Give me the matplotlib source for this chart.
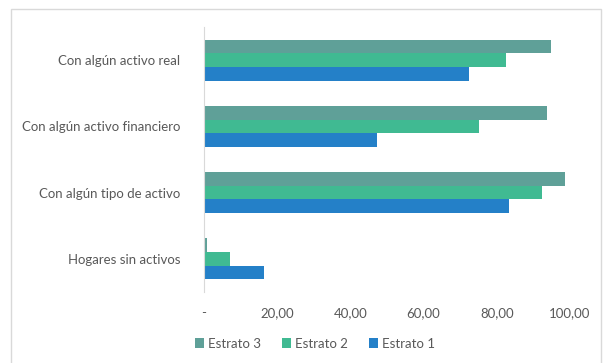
import matplotlib
matplotlib.use('Agg')
import matplotlib.pyplot as plt
from matplotlib.patches import Rectangle
from matplotlib.ticker import FuncFormatter

# Hogares con activos por estrato (%)
categories = ['Con algún activo real', 'Con algún activo financiero',
              'Con algún tipo de activo', 'Hogares sin activos']
estrato_3 = [94.8, 93.6, 98.6, 0.9]
estrato_2 = [82.4, 75.2, 92.3, 7.1]
estrato_1 = [72.5, 47.4, 83.2, 16.4]
series = [('Estrato 3', estrato_3, '#5FA098'),
          ('Estrato 2', estrato_2, '#40BA92'),
          ('Estrato 1', estrato_1, '#2480C8')]
xticks = [0, 20, 40, 60, 80, 100]

plt.rcParams['font.family'] = ['Lato', 'DejaVu Sans']
text_color = '#595959'

fig = plt.figure(figsize=(6.08, 3.63), dpi=100)
ax = fig.add_axes([204 / 608, 1 - 292 / 363, 366 / 608, 265 / 363])

# outer chart frame
fig.patches.append(Rectangle((11 / 608, -0.05), 590 / 608, 1.05 - 9 / 363,
                             transform=fig.transFigure, fill=False,
                             edgecolor='#d9d9d9', linewidth=1))

bar_h = 0.207
for i, (name, vals, color) in enumerate(series):
    ypos = [k + (i - 1) * bar_h for k in range(len(categories))]
    ax.barh(ypos, vals, height=bar_h, color=color, label=name)

ax.set_xlim(0, 100)
ax.set_ylim(len(categories) - 0.5, -0.5)
ax.set_yticks(range(len(categories)))
ax.set_yticklabels(categories, fontsize=9.5, color=text_color)
ax.set_xticks(xticks)
ax.xaxis.set_major_formatter(FuncFormatter(
    lambda v, p: '-' if v == 0 else f'{v:.2f}'.replace('.', ',')))
ax.tick_params(axis='x', labelsize=9.5, labelcolor=text_color, length=0, pad=11)
ax.tick_params(axis='y', length=0, pad=17)

for s in ['top', 'right', 'bottom']:
    ax.spines[s].set_visible(False)
ax.spines['left'].set_color('#d9d9d9')

leg = ax.legend(loc='center', bbox_to_anchor=(0.303, -0.195),
                ncol=3, frameon=False, fontsize=9.5, handlelength=0.7,
                handleheight=0.7, handletextpad=0.3, columnspacing=1.6)
for t in leg.get_texts():
    t.set_color(text_color)

plt.savefig('out.png', dpi=100)
